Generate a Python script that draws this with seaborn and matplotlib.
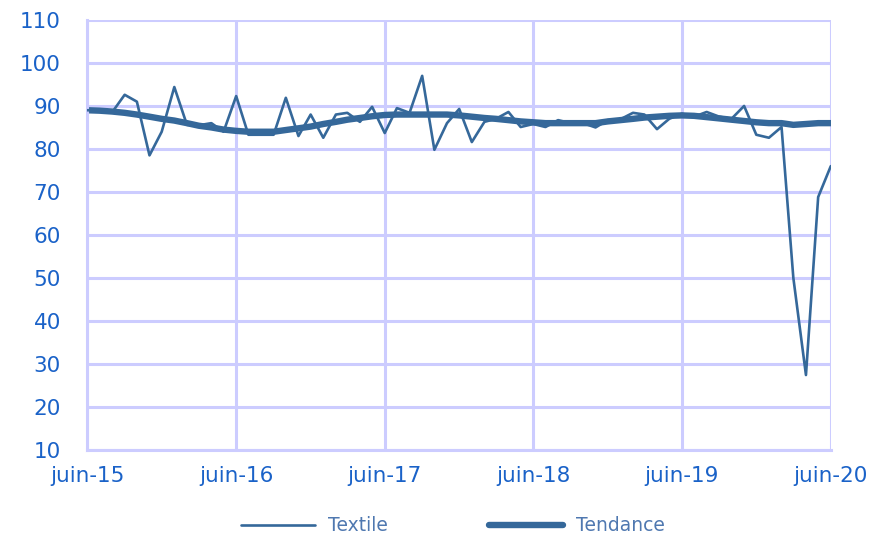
import pandas as pd
import seaborn as sns
import matplotlib.pyplot as plt

# Monthly data, juin-15 .. juin-20
months = pd.date_range("2015-06-01", "2020-06-01", freq="MS")
textile = [89, 89, 88.5, 92.6, 91, 78.5, 84, 94.4, 85.6, 85.5, 86, 84, 92.3,
           83.3, 83.3, 83.3, 91.9, 83, 88, 82.6, 88, 88.4, 86.3, 89.8, 83.7,
           89.5, 88.4, 97, 79.8, 86, 89.3, 81.6, 86.3, 87, 88.6, 85.1, 85.8,
           85.1, 86.7, 86, 86, 85, 86.7, 86.9, 88.4, 88, 84.6, 87, 88.2,
           87.5, 88.6, 87.5, 87, 90, 83.3, 82.6, 85.1, 50, 27.4, 68.8, 76]
tendance = [89, 88.9, 88.7, 88.4, 88, 87.5, 87, 86.6, 86, 85.4, 85, 84.5, 84.2,
            84, 84, 84, 84.4, 84.8, 85.2, 85.8, 86.3, 86.8, 87.2, 87.6, 87.9,
            88, 88, 88, 88, 88, 87.8, 87.5, 87.2, 87, 86.7, 86.4, 86.2, 86,
            86, 86, 86, 86, 86.4, 86.7, 87, 87.3, 87.5, 87.7, 87.8, 87.7,
            87.4, 87.1, 86.8, 86.5, 86.2, 86, 86, 85.6, 85.8, 86, 86]
tick_labels = ["juin-15", "juin-16", "juin-17", "juin-18", "juin-19", "juin-20"]

df = pd.DataFrame({"date": months, "Textile": textile, "Tendance": tendance})

line_col = "#35689a"
grid_col = "#ccccff"
text_col = "#1a62c8"

sns.set_style("white")
plt.rcParams["font.family"] = ["DejaVu Sans"]

fig, ax = plt.subplots(figsize=(8.81, 5.4), dpi=100)
fig.subplots_adjust(left=0.099, right=0.943, top=0.963, bottom=0.167)

sns.lineplot(data=df, x="date", y="Textile", ax=ax, color=line_col,
             linewidth=1.9, label="Textile", zorder=3)
sns.lineplot(data=df, x="date", y="Tendance", ax=ax, color=line_col,
             linewidth=4.6, label="Tendance", zorder=2)

ax.set_ylim(10, 110)
ax.set_yticks(range(10, 111, 10))
ax.set_xlim(months[0], months[-1])
ax.set_xticks(months[::12])
ax.set_xticklabels(tick_labels)
ax.set(xlabel="", ylabel="")

ax.grid(True, color=grid_col, linewidth=2.2)
ax.set_axisbelow(True)
for side in ["top", "right"]:
    ax.spines[side].set_visible(False)
for side in ["left", "bottom"]:
    ax.spines[side].set_color(grid_col)
    ax.spines[side].set_linewidth(2.2)

ax.tick_params(axis="y", length=0, pad=19, labelsize=15.5, labelcolor=text_col)
ax.tick_params(axis="x", length=5, width=2.2, color=grid_col, pad=7,
               labelsize=15.5, labelcolor=text_col)

ax.legend_.remove()
handles, labels = ax.get_legend_handles_labels()
leg = fig.legend(handles, labels, loc="center", ncol=2, frameon=False,
                 bbox_to_anchor=(0.514, 0.026), handlelength=3.95,
                 handletextpad=0.7, columnspacing=5.4, fontsize=13.5,
                 borderpad=0.2)
for t in leg.get_texts():
    t.set_color("#4f78b0")

plt.savefig("out.png", dpi=100)
